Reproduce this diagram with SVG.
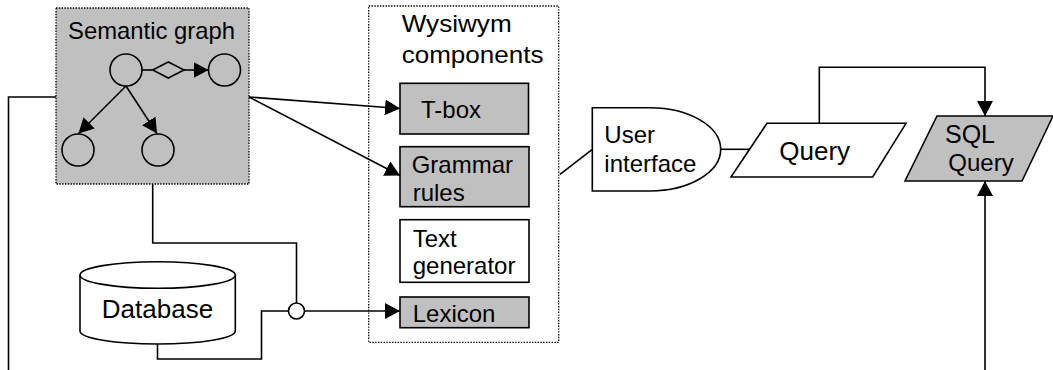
<svg xmlns="http://www.w3.org/2000/svg" width="1053" height="370" viewBox="0 0 1053 370">
<style>
  .ln{fill:none;stroke:#000;stroke-width:1.6}
  .sh{stroke:#000;stroke-width:1.6}
  .g{fill:#c0c0c0}
  .w{fill:#fff}
  .dot{stroke:#000;stroke-width:1.3;stroke-dasharray:1.4 1.4}
  text{font-family:"Liberation Sans",Arial,sans-serif;font-size:24px;fill:#000}
</style>
<defs>
  <marker id="ah" markerUnits="userSpaceOnUse" markerWidth="15" markerHeight="16" refX="15" refY="8" orient="auto">
    <path d="M0,0 L15,8 L0,16 Z" fill="#000"/>
  </marker>
</defs>
<rect width="1053" height="370" fill="#fff"/>

<g id="semantic-graph">
  <rect x="56" y="8" width="193" height="176" class="g dot"/>
  <text x="68" y="39.3" textLength="167" lengthAdjust="spacingAndGlyphs">Semantic graph</text>
  <circle cx="126" cy="70" r="16" class="sh g"/>
  <circle cx="224.5" cy="70" r="16" class="sh g"/>
  <circle cx="78" cy="150" r="16" class="sh g"/>
  <circle cx="158" cy="150" r="16" class="sh g"/>
  <line x1="142" y1="70" x2="152.7" y2="70" class="ln"/>
  <polygon points="152.7,70 168.3,62 184,70 168.3,78" class="sh g"/>
  <line x1="184" y1="70" x2="208.5" y2="70" class="ln" marker-end="url(#ah)"/>
  <line x1="126" y1="86" x2="78.5" y2="133.5" class="ln" marker-end="url(#ah)"/>
  <line x1="126" y1="86" x2="157" y2="133.5" class="ln" marker-end="url(#ah)"/>
</g>

<g id="wysiwym-components">
  <rect x="368.7" y="6" width="190" height="336.3" fill="none" class="dot"/>
  <text x="401.7" y="32.3" textLength="110" lengthAdjust="spacingAndGlyphs">Wysiwym</text>
  <text x="401.7" y="63.3" textLength="141.7" lengthAdjust="spacingAndGlyphs">components</text>
</g>

<g id="tbox">
  <rect x="400" y="83.3" width="128.5" height="50.7" class="sh g"/>
  <text x="421" y="118.3">T-box</text>
</g>

<g id="grammar-rules">
  <rect x="400" y="146.7" width="129" height="60" class="sh g"/>
  <text x="411.7" y="172.7">Grammar</text>
  <text x="412.7" y="200.7">rules</text>
</g>

<g id="text-generator">
  <rect x="400" y="219.7" width="129" height="62.6" class="sh w"/>
  <text x="412.7" y="246.7">Text</text>
  <text x="412.7" y="274.3">generator</text>
</g>

<g id="lexicon">
  <rect x="400" y="297" width="129" height="30.7" class="sh g"/>
  <text x="412.7" y="321.7">Lexicon</text>
</g>

<g id="database">
  <path d="M80,275 V331 A77.65,13 0 0 0 235.3,331 V275" class="sh w"/>
  <ellipse cx="157.65" cy="275" rx="77.65" ry="13.3" class="sh w"/>
  <text x="157.5" y="317.7" font-size="26" text-anchor="middle" style="font-size:26px">Database</text>
</g>

<g id="junction">
  <circle cx="296.5" cy="311" r="8" class="sh w"/>
</g>

<g id="user-interface">
  <path d="M592.3,107.7 H650 A70.7,41.65 0 0 1 650,191 H592.3 Z" class="sh w"/>
  <text x="604.3" y="143.3">User</text>
  <text x="604.3" y="171.7">interface</text>
</g>

<g id="query">
  <polygon points="767,123.3 906,123.3 872.7,177 731,177" class="sh w"/>
  <text x="779.3" y="160" style="font-size:26px">Query</text>
</g>

<g id="sql-query">
  <polygon points="937,116 1053,116 1022,181 905,181" class="sh g"/>
  <text x="945" y="143.3" style="font-size:25px">SQL</text>
  <text x="948.3" y="171">Query</text>
</g>

<g id="connectors">
  <line x1="249" y1="97" x2="400" y2="108.5" class="ln" marker-end="url(#ah)"/>
  <line x1="249" y1="97" x2="400" y2="175.5" class="ln" marker-end="url(#ah)"/>
  <path d="M56,97 H8.5 V370" class="ln"/>
  <path d="M152.7,184 V243 H296.5 V303" class="ln"/>
  <path d="M157.5,344 V359 H261.5 V311 H288.5" class="ln"/>
  <line x1="304.5" y1="311" x2="400" y2="311" class="ln" marker-end="url(#ah)"/>
  <line x1="560" y1="174.3" x2="592.3" y2="149.3" class="ln"/>
  <line x1="720.7" y1="149.3" x2="749.5" y2="149.3" class="ln"/>
  <path d="M819.3,123.3 V67.3 H985 V116" class="ln" marker-end="url(#ah)"/>
  <path d="M985,370 V181" class="ln" marker-end="url(#ah)"/>
</g>
</svg>
